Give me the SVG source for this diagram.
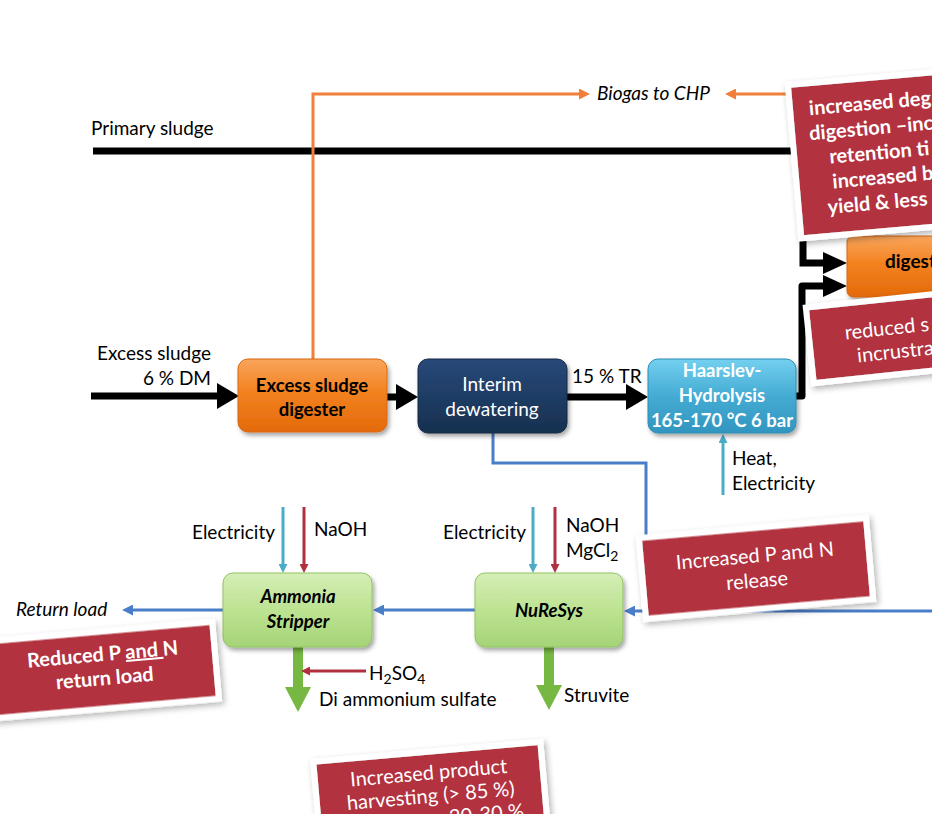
<svg xmlns="http://www.w3.org/2000/svg" width="932" height="814" viewBox="0 0 932 814">
<defs>
  <linearGradient id="gOrange" x1="0" y1="0" x2="0" y2="1">
    <stop offset="0" stop-color="#f9a55c"/>
    <stop offset="0.45" stop-color="#f3821f"/>
    <stop offset="1" stop-color="#e36a0b"/>
  </linearGradient>
  <linearGradient id="gNavy" x1="0" y1="0" x2="0" y2="1">
    <stop offset="0" stop-color="#27497a"/>
    <stop offset="1" stop-color="#17304f"/>
  </linearGradient>
  <linearGradient id="gBlue" x1="0" y1="0" x2="0" y2="1">
    <stop offset="0" stop-color="#74d0f0"/>
    <stop offset="0.5" stop-color="#45abd3"/>
    <stop offset="1" stop-color="#3196bf"/>
  </linearGradient>
  <linearGradient id="gGreen" x1="0" y1="0" x2="0" y2="1">
    <stop offset="0" stop-color="#d6eeb6"/>
    <stop offset="0.5" stop-color="#bde392"/>
    <stop offset="1" stop-color="#a5d477"/>
  </linearGradient>
  <filter id="shadow" x="-10%" y="-10%" width="130%" height="140%">
    <feDropShadow dx="2" dy="3" stdDeviation="2" flood-color="#000" flood-opacity="0.35"/>
  </filter>
  <filter id="cshadow" x="-10%" y="-15%" width="125%" height="140%">
    <feDropShadow dx="2" dy="3" stdDeviation="3" flood-color="#000" flood-opacity="0.3"/>
  </filter>
  <marker id="mBlk" markerUnits="userSpaceOnUse" markerWidth="22" markerHeight="26" refX="0" refY="13" orient="auto">
    <path d="M0,0 L22,13 L0,26 z" fill="#000"/>
  </marker>
  <marker id="mBlkS" markerUnits="userSpaceOnUse" markerWidth="24" markerHeight="22" refX="0" refY="11" orient="auto">
    <path d="M0,0 L24,11 L0,22 z" fill="#000"/>
  </marker>
  <marker id="mOr" markerUnits="userSpaceOnUse" markerWidth="11" markerHeight="11" refX="0" refY="5.5" orient="auto">
    <path d="M0,0 L11,5.5 L0,11 z" fill="#f07f3a"/>
  </marker>
  <marker id="mBlue" markerUnits="userSpaceOnUse" markerWidth="11" markerHeight="11" refX="0" refY="5.5" orient="auto">
    <path d="M0,0 L11,5.5 L0,11 z" fill="#4a7ec8"/>
  </marker>
  <marker id="mTeal" markerUnits="userSpaceOnUse" markerWidth="9" markerHeight="9" refX="0" refY="4.5" orient="auto">
    <path d="M0,0 L9,4.5 L0,9 z" fill="#4bacc6"/>
  </marker>
  <marker id="mRed" markerUnits="userSpaceOnUse" markerWidth="9" markerHeight="9" refX="0" refY="4.5" orient="auto">
    <path d="M0,0 L9,4.5 L0,9 z" fill="#b0303f"/>
  </marker>
  <marker id="mGreen" markerUnits="userSpaceOnUse" markerWidth="25" markerHeight="26" refX="0" refY="13" orient="auto">
    <path d="M0,0 L25,13 L0,26 z" fill="#77b843"/>
  </marker>
</defs>
<style>
  text { font-family: Lato, "Open Sans", "Liberation Sans", sans-serif; font-size: 19px; fill: #000; }
  .it { font-style: italic; }
  .bt { font-weight: bold; text-anchor: middle; font-size: 18.5px; }
  .wt { fill: #fff; }
  .box { filter: url(#shadow); }
  .call { fill: #b3313f; stroke: #fff; stroke-width: 6; filter: url(#cshadow); }
  .ct { fill: #fff; font-size: 20px; }
  .blk { stroke: #000; fill: none; stroke-width: 7; }
  .orange { stroke: #f07f3a; stroke-width: 3; fill: none; }
  .blue { stroke: #4a7ec8; stroke-width: 3; fill: none; }
  .teal { stroke: #4bacc6; stroke-width: 3; fill: none; }
  .red { stroke: #b0303f; stroke-width: 3; fill: none; }
  .green { stroke: #77b843; stroke-width: 10; fill: none; }
</style>

<g id="connectors">
  <path class="blk" d="M93,151 H803 V263 H823" stroke-width="8" marker-end="url(#mBlkS)"/>
  <path class="blk" d="M91,396 H217" marker-end="url(#mBlk)"/>
  <path class="blk" d="M386,397 H396" marker-end="url(#mBlk)"/>
  <path class="blk" d="M566,397 H626" marker-end="url(#mBlk)"/>
  <path class="blk" d="M795,396 H802 V286 H823" stroke-width="6" stroke-linejoin="round" marker-end="url(#mBlkS)"/>
  <path class="orange" d="M313,360 V94 H579" marker-end="url(#mOr)"/>
  <path class="orange" d="M792,94 H736" marker-end="url(#mOr)"/>
  <path class="blue" d="M493,433 V463 H646 V611"/>
  <path class="blue" d="M935,611 H635" marker-end="url(#mBlue)"/>
  <path class="blue" d="M475,610 H384" marker-end="url(#mBlue)"/>
  <path class="blue" d="M223,610 H133" marker-end="url(#mBlue)"/>
  <path class="teal" d="M723,495 V443" marker-end="url(#mTeal)"/>
  <path class="teal" d="M533,507 V564" marker-end="url(#mTeal)"/>
  <path class="red" d="M555,507 V564" marker-end="url(#mRed)"/>
  <path class="teal" d="M283,507 V564" marker-end="url(#mTeal)"/>
  <path class="red" d="M304,507 V564" marker-end="url(#mRed)"/>
  <path class="green" d="M298,647 V687" marker-end="url(#mGreen)"/>
  <path class="green" d="M549,647 V685" marker-end="url(#mGreen)"/>
  <path class="red" d="M366,671 H310" marker-end="url(#mRed)"/>
</g>

<g id="labels">
  <text x="91" y="135">Primary sludge</text>
  <text class="it" x="597" y="100">Biogas to CHP</text>
  <text x="97" y="360">Excess sludge</text>
  <text x="211" y="385" text-anchor="end">6 % DM</text>
  <text x="572" y="383">15 % TR</text>
  <text x="732" y="465">Heat,</text>
  <text x="732" y="490">Electricity</text>
  <text x="192" y="539">Electricity</text>
  <text x="314" y="536">NaOH</text>
  <text x="443" y="539">Electricity</text>
  <text x="566" y="532">NaOH</text>
  <text x="566" y="557">MgCl<tspan font-size="14" dy="4">2</tspan></text>
  <text class="it" x="16" y="616">Return load</text>
  <text x="369" y="680">H<tspan font-size="14" dy="4">2</tspan><tspan dy="-4">SO</tspan><tspan font-size="14" dy="4">4</tspan></text>
  <text x="319" y="706">Di ammonium sulfate</text>
  <text x="564" y="702">Struvite</text>
</g>

<g id="node-digester">
  <rect class="box" x="238" y="359" width="149" height="73" rx="10" fill="url(#gOrange)" stroke="#d8680f" stroke-width="1"/>
  <text class="bt" x="312" y="392">Excess sludge</text>
  <text class="bt" x="312" y="416">digester</text>
</g>
<g id="node-interim">
  <rect class="box" x="418" y="359" width="149" height="74" rx="10" fill="url(#gNavy)" stroke="#142a45" stroke-width="1"/>
  <text class="wt" x="492" y="391" text-anchor="middle">Interim</text>
  <text class="wt" x="492" y="416" text-anchor="middle">dewatering</text>
</g>
<g id="node-haarslev">
  <rect class="box" x="648" y="359" width="148" height="74" rx="10" fill="url(#gBlue)" stroke="#2d8db5" stroke-width="1"/>
  <text class="bt wt" x="722" y="377">Haarslev-</text>
  <text class="bt wt" x="722" y="402">Hydrolysis</text>
  <text class="bt wt" x="722" y="427" font-size="18px">165-170 °C 6 bar</text>
</g>
<g id="node-digest">
  <rect class="box" x="847" y="236" width="100" height="61" rx="6" fill="url(#gOrange)" stroke="#d8680f" stroke-width="1"/>
  <text x="885" y="268" font-weight="bold">digest</text>
</g>
<g id="node-ammonia">
  <rect class="box" x="223" y="573" width="149" height="74" rx="10" fill="url(#gGreen)" stroke="#90c365" stroke-width="1"/>
  <text class="bt it" x="298" y="603">Ammonia</text>
  <text class="bt it" x="298" y="628">Stripper</text>
</g>
<g id="node-nuresys">
  <rect class="box" x="475" y="573" width="148" height="74" rx="10" fill="url(#gGreen)" stroke="#90c365" stroke-width="1"/>
  <text class="bt it" x="549" y="617">NuReSys</text>
</g>

<g id="callout-top" transform="translate(951,148) rotate(-5)">
  <rect class="call" x="-157" y="-77" width="320" height="154"/>
  <text class="ct" font-weight="bold" x="-138" y="-45">increased  deg</text>
  <text class="ct" font-weight="bold" x="-140" y="-20">digestion –inc</text>
  <text class="ct" font-weight="bold" x="-122" y="5">retention ti</text>
  <text class="ct" font-weight="bold" x="-121" y="30">increased b</text>
  <text class="ct" font-weight="bold" x="-128" y="55">yield &amp; less</text>
</g>
<g id="callout-reduced" transform="translate(956,330) rotate(-6)">
  <rect class="call" x="-147" y="-38" width="300" height="76"/>
  <text class="ct" x="-111" y="-2">reduced s</text>
  <text class="ct" x="-101" y="22">incrustra</text>
</g>
<g id="callout-release" transform="translate(756,568.5) rotate(-5)">
  <rect class="call" x="-114" y="-40.5" width="228" height="81"/>
  <text class="ct" x="0" y="-6" text-anchor="middle">Increased P and N</text>
  <text class="ct" x="0" y="19" text-anchor="middle">release</text>
</g>
<g id="callout-return" transform="translate(104,670) rotate(-5)">
  <rect class="call" x="-112" y="-38.5" width="224" height="77"/>
  <text class="ct" font-weight="bold" x="0" y="-9" text-anchor="middle">Reduced P <tspan text-decoration="underline">and </tspan>N</text>
  <text class="ct" font-weight="bold" x="0" y="15" text-anchor="middle">return load</text>
</g>
<g id="callout-harvest" transform="translate(427,800) rotate(-5)">
  <rect class="call" x="-110" y="-48" width="228" height="110"/>
  <text class="ct" x="4" y="-20" text-anchor="middle" font-size="22px">Increased product</text>
  <text class="ct" x="4" y="3" text-anchor="middle" font-size="22px">harvesting (&gt; 85 %)</text>
  <text class="ct" x="58" y="26" text-anchor="middle" font-size="22px">20-30 %</text>
</g>
</svg>
